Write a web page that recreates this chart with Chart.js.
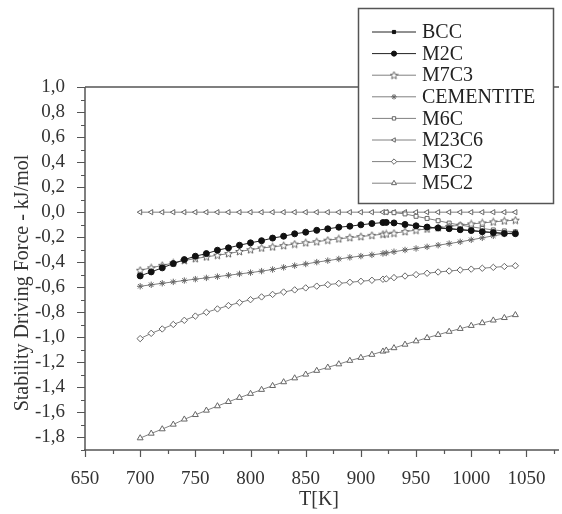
<!DOCTYPE html>
<html lang="en">
<head>
<meta charset="UTF-8">
<title>Stability Driving Force</title>
<style>
  body { margin: 0; background: #fff; overflow: hidden; }
  #wrap { width: 564px; height: 514px; }
</style>
</head>
<body>
<div id="wrap"><canvas id="canvas" width="564" height="514"></canvas></div>
<script src="https://cdn.jsdelivr.net/npm/chart.js@4.4.0/dist/chart.umd.min.js"></script>
<script>
// temperatures (K), extra point at 923 K
const temps = [700,710,720,730,740,750,760,770,780,790,800,810,820,830,840,850,860,870,880,890,900,910,920,923,
               930,940,950,960,970,980,990,1000,1010,1020,1030,1040];

const bcc = [null,null,null,null,null,null,null,null,null,null,null,null,null,null,null,null,null,null,null,null,null,null,null,-0.082,
             -0.086,-0.098,-0.109,-0.119,-0.126,-0.132,-0.140,-0.147,-0.156,-0.163,-0.170,-0.172];
const m2c = [-0.509,-0.477,-0.445,-0.411,-0.379,-0.352,-0.331,-0.304,-0.285,-0.264,-0.245,-0.228,-0.207,-0.192,-0.173,-0.160,-0.145,-0.133,-0.120,-0.112,-0.101,-0.091,-0.083,-0.082,
             -0.086,-0.098,-0.109,-0.119,-0.126,-0.132,-0.140,-0.147,-0.156,-0.163,-0.170,-0.172];
const m7c3 = [-0.464,-0.445,-0.425,-0.406,-0.386,-0.371,-0.357,-0.344,-0.331,-0.314,-0.300,-0.286,-0.277,-0.267,-0.255,-0.244,-0.236,-0.224,-0.213,-0.203,-0.195,-0.185,-0.176,-0.174,
              -0.168,-0.155,-0.144,-0.134,-0.124,-0.114,-0.104,-0.094,-0.086,-0.078,-0.070,-0.064];
const cementite = [-0.592,-0.580,-0.568,-0.557,-0.546,-0.535,-0.525,-0.515,-0.504,-0.493,-0.483,-0.471,-0.458,-0.441,-0.427,-0.414,-0.399,-0.387,-0.374,-0.361,-0.351,-0.341,-0.330,-0.326,
                   -0.316,-0.302,-0.290,-0.277,-0.264,-0.251,-0.237,-0.221,-0.205,-0.189,-0.174,-0.160];
const m6c = [null,null,null,null,null,null,null,null,null,null,null,null,null,null,null,null,null,null,null,null,null,null,null,0.0,
             -0.004,-0.014,-0.033,-0.050,-0.068,-0.087,-0.103,-0.117,-0.130,-0.142,-0.150,-0.157];
const m23c6 = [0,0,0,0,0,0,0,0,0,0,0,0,0,0,0,0,0,0,0,0,0,0,0,0,0,0,0,0,0,0,0,0,0,0,0,0];
const m3c2 = [-1.010,-0.968,-0.933,-0.897,-0.864,-0.830,-0.800,-0.773,-0.746,-0.722,-0.699,-0.677,-0.657,-0.638,-0.621,-0.605,-0.591,-0.579,-0.569,-0.560,-0.552,-0.544,-0.536,-0.533,
              -0.523,-0.510,-0.499,-0.488,-0.478,-0.470,-0.462,-0.455,-0.448,-0.441,-0.434,-0.428];
const m5c2 = [-1.805,-1.768,-1.733,-1.696,-1.655,-1.619,-1.584,-1.549,-1.515,-1.482,-1.450,-1.418,-1.387,-1.357,-1.326,-1.296,-1.266,-1.240,-1.214,-1.186,-1.162,-1.138,-1.112,-1.104,
              -1.085,-1.057,-1.030,-1.004,-0.979,-0.954,-0.931,-0.907,-0.885,-0.864,-0.844,-0.821];

const FONT = "'Liberation Serif', 'DejaVu Serif', serif";
const GREY = '#808080';
const MARK = '#666';

// small outlined 5-point star for M7C3
function starImage() {
  const c = document.createElement('canvas');
  c.width = 9; c.height = 9;
  const g = c.getContext('2d');
  g.fillStyle = '#fff';
  g.strokeStyle = MARK;
  g.lineWidth = 1;
  g.beginPath();
  for (let i = 0; i < 10; i++) {
    const r = i % 2 ? 1.8 : 4;
    const a = -Math.PI / 2 + i * Math.PI / 5;
    const px = 4.5 + r * Math.cos(a), py = 4.8 + r * Math.sin(a);
    if (i == 0) g.moveTo(px, py); else g.lineTo(px, py);
  }
  g.closePath();
  g.fill();
  g.stroke();
  return c;
}
const star = starImage();

function series(label, data, style, opts) {
  return Object.assign({
    label: label,
    data: temps.map((t, i) => ({ x: t, y: data[i] })),
    borderColor: GREY,
    borderWidth: 1,
    pointStyle: style,
    pointRadius: 3,
    pointBorderWidth: 1,
    pointBackgroundColor: '#fff',
    pointBorderColor: MARK,
    pointRotation: 0,
    tension: 0,
    spanGaps: false
  }, opts || {});
}

const datasets = [
  series('BCC', bcc, 'rect', { borderColor: '#222', pointBackgroundColor: '#111', pointBorderColor: '#111', pointRadius: 2.6 }),
  series('M2C', m2c, 'circle', { borderColor: '#222', pointBackgroundColor: '#111', pointBorderColor: '#111', pointRadius: 3 }),
  series('M7C3', m7c3, star),
  series('CEMENTITE', cementite, 'star', { pointRadius: 3.2 }),
  series('M6C', m6c, 'rect', { pointRadius: 2.8 }),
  series('M23C6', m23c6, 'triangle', { pointRotation: -90 }),
  series('M3C2', m3c2, 'rectRot', { pointRadius: 3.2 }),
  series('M5C2', m5c2, 'triangle', { pointRadius: 3.4 })
];

function fmt(v) {
  let r = Math.round(v * 10) / 10;
  if (Math.abs(r) < 1e-9) r = 0;
  return r.toFixed(1).replace('.', ',');
}

const frame = {
  id: 'frame',
  afterDraw(chart) {
    const ctx = chart.ctx;
    const a = chart.chartArea;
    const xs = chart.scales.x, ys = chart.scales.y;
    ctx.save();
    ctx.strokeStyle = '#555';
    ctx.lineWidth = 1.5;
    ctx.beginPath();
    ctx.moveTo(a.left, a.top); ctx.lineTo(a.right + 5, a.top);
    ctx.moveTo(a.left, a.top); ctx.lineTo(a.left, a.bottom);
    ctx.moveTo(a.left - 1, a.bottom); ctx.lineTo(a.right + 5, a.bottom);
    ctx.stroke();
    // tick marks, outward
    ctx.lineWidth = 1.2;
    ctx.beginPath();
    ys.ticks.forEach(t => {
      const y = Math.round(ys.getPixelForValue(t.value)) + 0.5;
      const major = Math.abs(Math.round(t.value * 10) % 2) == 0;
      ctx.moveTo(a.left, y); ctx.lineTo(a.left - (major ? 8 : 4), y);
    });
    xs.ticks.forEach(t => {
      const x = Math.round(xs.getPixelForValue(t.value)) + 0.5;
      const major = t.value % 50 == 0;
      ctx.moveTo(x, a.bottom); ctx.lineTo(x, a.bottom + (major ? 7 : 4));
    });
    ctx.stroke();

    // axis titles
    ctx.fillStyle = '#333';
    ctx.font = '20px ' + FONT;
    ctx.textAlign = 'center';
    ctx.textBaseline = 'middle';
    ctx.fillText('T[K]', 319, 500);
    ctx.translate(23, 283);
    ctx.rotate(-Math.PI / 2);
    ctx.fillText('Stability Driving Force - kJ/mol', 0, 0);
    ctx.restore();

    // legend box
    ctx.save();
    ctx.fillStyle = '#fff';
    ctx.fillRect(358, 8, 195, 195);
    ctx.strokeStyle = '#555';
    ctx.lineWidth = 1.5;
    ctx.strokeRect(358.5, 8.5, 195, 195);
    chart.data.datasets.forEach((ds, i) => {
      const y = 32 + i * 21.6;
      ctx.strokeStyle = ds.borderColor;
      ctx.lineWidth = 1;
      ctx.beginPath();
      ctx.moveTo(372, y); ctx.lineTo(416, y);
      ctx.stroke();
      if (Chart.helpers && Chart.helpers.drawPoint) {
        ctx.fillStyle = ds.pointBackgroundColor;
        ctx.strokeStyle = ds.pointBorderColor;
        ctx.lineWidth = 1;
        Chart.helpers.drawPoint(ctx, {
          pointStyle: ds.pointStyle, radius: ds.pointRadius * 0.85,
          rotation: ds.pointRotation, borderWidth: 1
        }, 394, y);
      }
      ctx.fillStyle = '#222';
      ctx.font = '20px ' + FONT;
      ctx.textAlign = 'left';
      ctx.textBaseline = 'middle';
      ctx.fillText(ds.label, 422, y + 1);
    });
    ctx.restore();
  }
};

new Chart(document.getElementById('canvas').getContext('2d'), {
  type: 'line',
  data: { datasets: datasets },
  options: {
    responsive: false,
    animation: false,
    layout: { padding: { top: 87, left: 0, right: 0, bottom: 0 } },
    plugins: { legend: { display: false }, tooltip: { enabled: false } },
    scales: {
      x: {
        type: 'linear', min: 650, max: 1075,
        afterFit: s => { s.height = 64; },
        grid: { display: false },
        border: { display: false },
        ticks: {
          stepSize: 25, autoSkip: false, maxRotation: 0, padding: 10,
          color: '#333', font: { family: FONT, size: 19 },
          callback: v => (v % 50 == 0 && v < 1075) ? String(v) : ''
        }
      },
      y: {
        min: -1.9, max: 1.0,
        afterFit: s => { s.width = 85; },
        grid: { display: false },
        border: { display: false },
        ticks: {
          stepSize: 0.1, autoSkip: false, padding: 12,
          color: '#333', font: { family: FONT, size: 19 },
          callback: v => (Math.abs(Math.round(v * 10) % 2) == 0 && v > -1.85) ? fmt(v) : ''
        }
      }
    }
  },
  plugins: [frame]
});
</script>
</body>
</html>
